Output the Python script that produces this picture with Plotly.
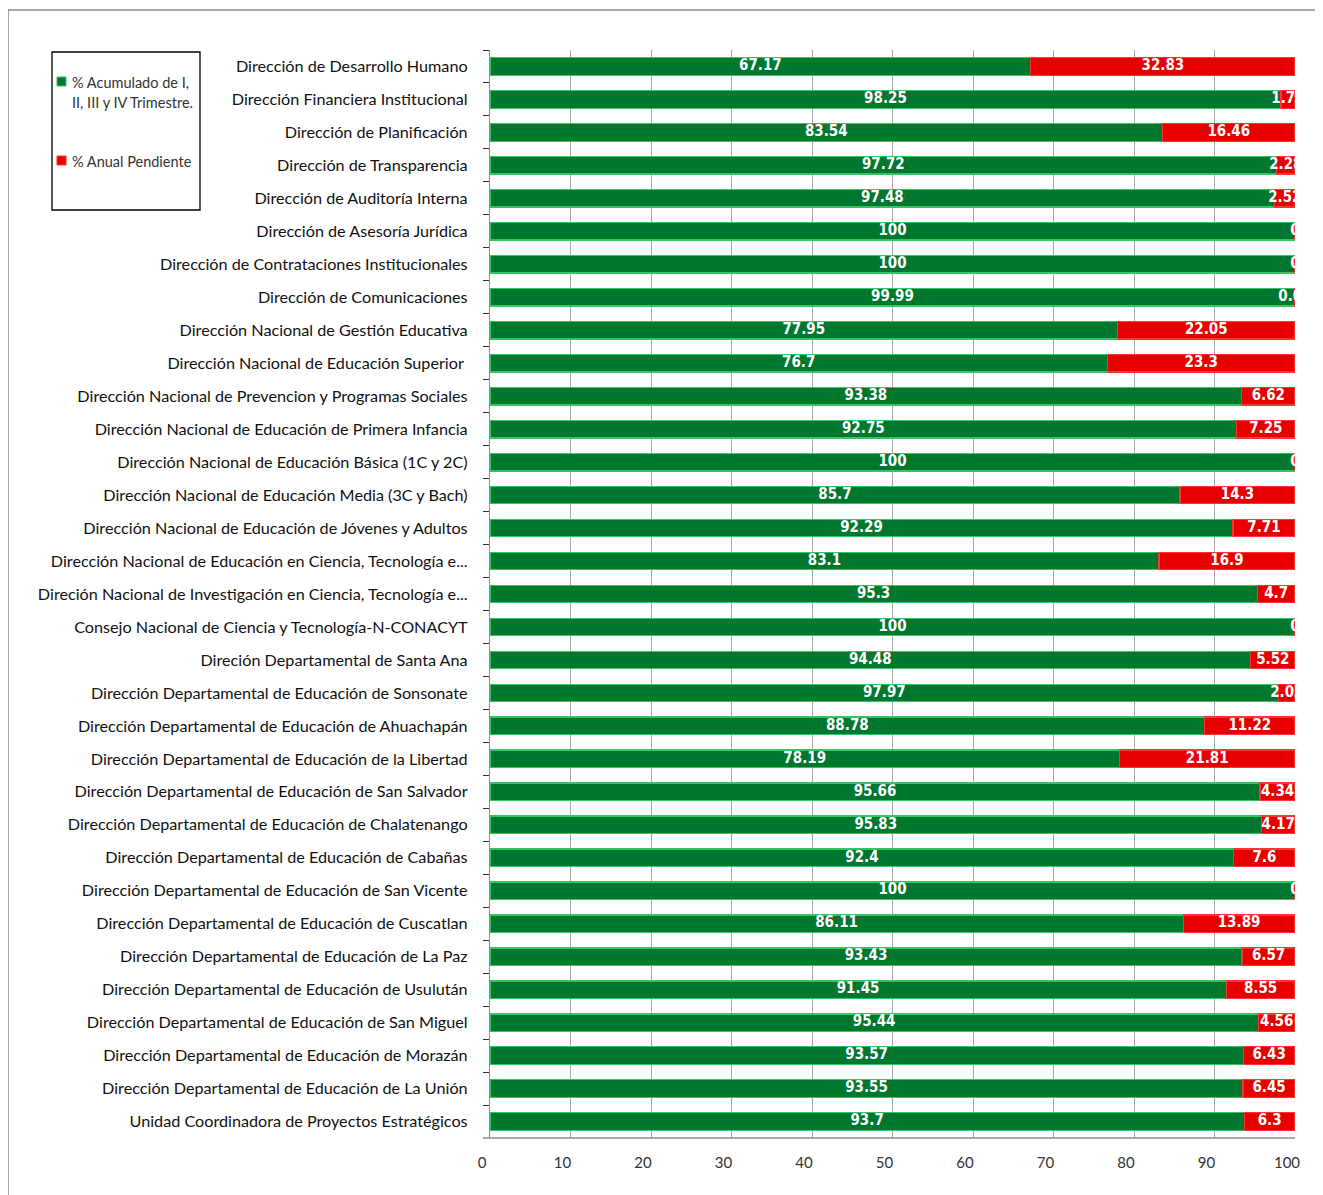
import plotly.graph_objects as go

categories = [
    "Dirección de Desarrollo Humano",
    "Dirección Financiera Institucional",
    "Dirección de Planificación",
    "Dirección de Transparencia",
    "Dirección de Auditoría Interna",
    "Dirección de Asesoría Jurídica",
    "Dirección de Contrataciones Institucionales",
    "Dirección de Comunicaciones",
    "Dirección Nacional de Gestión Educativa",
    "Dirección Nacional de Educación Superior ",
    "Dirección Nacional de Prevencion y Programas Sociales",
    "Dirección Nacional de Educación de Primera Infancia",
    "Dirección Nacional de Educación Básica (1C y 2C)",
    "Dirección Nacional de Educación Media (3C y Bach)",
    "Dirección Nacional de Educación de Jóvenes y Adultos",
    "Dirección Nacional de Educación en Ciencia, Tecnología e...",
    "Direción Nacional de Investigación en Ciencia, Tecnología e...",
    "Consejo Nacional de Ciencia y Tecnología-N-CONACYT",
    "Direción Departamental de Santa Ana",
    "Dirección Departamental de Educación de Sonsonate",
    "Dirección Departamental de Educación de Ahuachapán",
    "Dirección Departamental de Educación de la Libertad",
    "Dirección Departamental de Educación de San Salvador",
    "Dirección Departamental de Educación de Chalatenango",
    "Dirección Departamental de Educación de Cabañas",
    "Dirección Departamental de Educación de San Vicente",
    "Dirección Departamental de Educación de Cuscatlan",
    "Dirección Departamental de Educación de La Paz",
    "Dirección Departamental de Educación de Usulután",
    "Dirección Departamental de Educación de San Miguel",
    "Dirección Departamental de Educación de Morazán",
    "Dirección Departamental de Educación de La Unión",
    "Unidad Coordinadora de Proyectos Estratégicos",
]

acumulado = [67.17, 98.25, 83.54, 97.72, 97.48, 100, 100, 99.99, 77.95, 76.7,
             93.38, 92.75, 100, 85.7, 92.29, 83.1, 95.3, 100, 94.48, 97.97,
             88.78, 78.19, 95.66, 95.83, 92.4, 100, 86.11, 93.43, 91.45, 95.44,
             93.57, 93.55, 93.7]

pendiente = [32.83, 1.75, 16.46, 2.28, 2.52, 0, 0, 0.01, 22.05, 23.3,
             6.62, 7.25, 0, 14.3, 7.71, 16.9, 4.7, 0, 5.52, 2.03,
             11.22, 21.81, 4.34, 4.17, 7.6, 0, 13.89, 6.57, 8.55, 4.56,
             6.43, 6.45, 6.3]

series_names = ["% Acumulado de I,", "II, III y IV Trimestre.", "% Anual Pendiente"]
x_ticks = [0, 10, 20, 30, 40, 50, 60, 70, 80, 90, 100]

GREEN = "#00772f"
GREEN_EDGE = "#34c463"
RED = "#e80000"
RED_EDGE = "#ff3535"


def fmt(v):
    return "%g" % v


# page has an 8px body margin, so target positions are reference - 8
OFF = 8
W, H = 1323, 1195
L, T = 490 - OFF, 50 - OFF
R = W - (1295 - OFF)
B = H - (1138 - OFF)
pw, ph = W - L - R, H - T - B


def px_x(px):
    return (px - OFF - L) / pw


def px_y(py):
    return 1 - (py - OFF - T) / ph


fig = go.Figure()

fig.add_trace(go.Bar(
    y=categories, x=acumulado, orientation="h", name=series_names[0],
    marker=dict(color=GREEN, line=dict(color=GREEN_EDGE, width=1.3)),
    showlegend=False, hoverinfo="x+y",
))
fig.add_trace(go.Bar(
    y=categories, x=pendiente, orientation="h", name=series_names[2],
    marker=dict(color=RED, line=dict(color=RED_EDGE, width=1.3)),
    showlegend=False, hoverinfo="x+y",
))

label_font = dict(color="white", size=15,
                  family="Liberation Sans Narrow, DejaVu Sans Condensed, Lato, sans-serif",
                  weight="bold")

fig.add_trace(go.Scatter(
    y=categories, x=[a / 2 for a in acumulado], mode="text",
    text=[fmt(a) for a in acumulado], textposition="middle center",
    textfont=label_font, showlegend=False, hoverinfo="skip", cliponaxis=True,
))
fig.add_trace(go.Scatter(
    y=categories, x=[a + p / 2 for a, p in zip(acumulado, pendiente)], mode="text",
    text=[fmt(p) for p in pendiente], textposition="middle center",
    textfont=label_font, showlegend=False, hoverinfo="skip", cliponaxis=True,
))

legend_font = dict(size=14.5, color="#333333", family="Lato, sans-serif")

shapes = [
    # outer chart frame
    dict(type="rect", xref="paper", yref="paper",
         x0=px_x(8), x1=px_x(1340), y0=px_y(1210), y1=px_y(10),
         line=dict(color="#8c8c8c", width=1.5), fillcolor="rgba(0,0,0,0)", layer="below"),
    # bottom axis (floor) line
    dict(type="line", xref="paper", yref="paper",
         x0=px_x(483), x1=1, y0=0, y1=0, line=dict(color="#8c8c8c", width=1.3)),
    # legend box
    dict(type="rect", xref="paper", yref="paper",
         x0=px_x(52), x1=px_x(200), y0=px_y(210), y1=px_y(52),
         line=dict(color="black", width=1.3), fillcolor="white"),
    # legend swatches
    dict(type="rect", xref="paper", yref="paper",
         x0=px_x(57), x1=px_x(66), y0=px_y(86), y1=px_y(77),
         line=dict(color=GREEN_EDGE, width=1), fillcolor=GREEN),
    dict(type="rect", xref="paper", yref="paper",
         x0=px_x(57), x1=px_x(66), y0=px_y(165), y1=px_y(156),
         line=dict(color=RED_EDGE, width=1), fillcolor=RED),
]

annotations = [
    dict(xref="paper", yref="paper", x=px_x(70), y=px_y(82), xanchor="left", yanchor="middle",
         text=series_names[0], showarrow=False, font=legend_font),
    dict(xref="paper", yref="paper", x=px_x(70), y=px_y(102), xanchor="left", yanchor="middle",
         text=series_names[1], showarrow=False, font=legend_font),
    dict(xref="paper", yref="paper", x=px_x(70), y=px_y(161), xanchor="left", yanchor="middle",
         text=series_names[2], showarrow=False, font=legend_font),
]

fig.update_layout(
    width=W, height=H,
    margin=dict(l=L, r=R, t=T, b=B),
    barmode="stack", bargap=0.47,
    paper_bgcolor="white", plot_bgcolor="white",
    font=dict(family="Lato, Noto Sans, sans-serif", color="#1a1a1a"),
    showlegend=False,
    xaxis=dict(
        range=[0, 100], tickvals=x_ticks, showgrid=True, gridcolor="#a6a6a6", gridwidth=1,
        zeroline=False, showline=False, ticks="",
        tickfont=dict(size=15, color="#333333", family="Liberation Sans Narrow, Lato, sans-serif"),
        ticklabelshift=-8, ticklabelstandoff=14, fixedrange=True,
    ),
    yaxis=dict(
        categoryorder="array", categoryarray=categories,
        range=[len(categories) - 0.5, -0.5],
        showline=True, linecolor="#8c8c8c", linewidth=1.3,
        ticks="outside", ticklen=6, tickcolor="#333333", tickson="boundaries",
        tickfont=dict(size=16.2, color="#111111", family="Lato, sans-serif"),
        ticklabelstandoff=18, fixedrange=True,
    ),
    shapes=shapes,
    annotations=annotations,
)

fig.write_html("out.html")
